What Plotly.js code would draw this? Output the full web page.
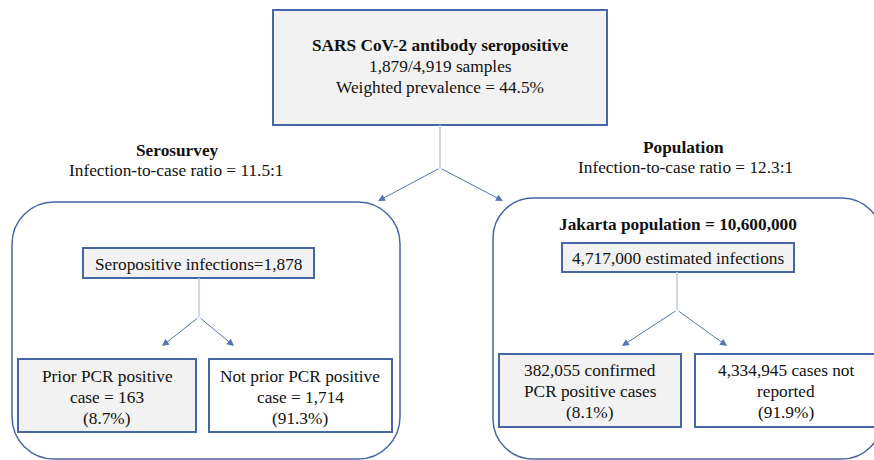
<!DOCTYPE html>
<html>
<head>
<meta charset="utf-8">
<script src="https://cdn.plot.ly/plotly-3.0.1.min.js"></script>
<style>html,body{margin:0;padding:0;background:#fff;font-family:"Liberation Serif",serif}#chart{width:874px;height:460px}</style>
</head>
<body>
<div id="chart"></div>
<script>
// ---- Content ----
const titleLines = ["SARS CoV-2 antibody seropositive", "1,879/4,919 samples", "Weighted prevalence = 44.5%"];
const groupNames = ["Serosurvey", "Population"];
const groupRatios = ["11.5:1", "12.3:1"];
const populationLabel = "Jakarta population = 10,600,000";
const parentLabels = ["Seropositive infections=1,878", "4,717,000 estimated infections"];
const childLines = [
  ["Prior PCR positive", "case = 163"],
  ["Not prior PCR positive", "case = 1,714"],
  ["382,055 confirmed", "PCR positive cases"],
  ["4,334,945 cases not", "reported"]
];
const childShares = ["8.7%", "91.3%", "8.1%", "91.9%"];

// ---- Layout geometry (pixel space, y downwards) ----
const BORDER = "#4766a5", ARROW = "#5673b2", STEM = "#c0cbe3", GREY = "#f2f2f2";
const FONT = "Liberation Serif";
const FS = 17.3;
const LH = 21;

const shapes = [];
const annotations = [];

function rect(x0, y0, x1, y1, fill) {
  shapes.push({type: "rect", xref: "x", yref: "y", x0: x0, y0: y0, x1: x1, y1: y1,
    line: {color: BORDER, width: 2}, fillcolor: fill, layer: "below"});
}
function rrect(x0, y0, x1, y1, r) {
  const k = r * 0.45;
  const p = "M " + (x0 + r) + "," + y0 + " L " + (x1 - r) + "," + y0 +
    " C " + (x1 - k) + "," + y0 + " " + x1 + "," + (y0 + k) + " " + x1 + "," + (y0 + r) +
    " L " + x1 + "," + (y1 - r) +
    " C " + x1 + "," + (y1 - k) + " " + (x1 - k) + "," + y1 + " " + (x1 - r) + "," + y1 +
    " L " + (x0 + r) + "," + y1 +
    " C " + (x0 + k) + "," + y1 + " " + x0 + "," + (y1 - k) + " " + x0 + "," + (y1 - r) +
    " L " + x0 + "," + (y0 + r) +
    " C " + x0 + "," + (y0 + k) + " " + (x0 + k) + "," + y0 + " " + (x0 + r) + "," + y0 + " Z";
  shapes.push({type: "path", xref: "x", yref: "y", path: p, line: {color: BORDER, width: 1.5}, fillcolor: "rgba(0,0,0,0)", layer: "below"});
}
function stem(x, y0, y1) {
  shapes.push({type: "line", xref: "x", yref: "y", x0: x, y0: y0, x1: x, y1: y1, line: {color: STEM, width: 1.5}});
}
function arrow(x0, y0, x1, y1) {
  annotations.push({x: x1, y: y1, ax: x0, ay: y0, xref: "x", yref: "y", axref: "x", ayref: "y",
    text: "", showarrow: true, arrowhead: 2, arrowsize: 1.4, arrowwidth: 1, arrowcolor: ARROW, standoff: 0, startstandoff: 0});
}
function text(x, y, t) {
  annotations.push({x: x, y: y, xref: "x", yref: "y", text: t, showarrow: false,
    font: {family: FONT, size: FS, color: "#111111"}, xanchor: "center", yanchor: "middle", align: "center"});
}
function lines(x, yFirst, arr) {
  arr.forEach(function (t, i) { text(x, yFirst + i * LH, t); });
}

// Top box
rect(273, 10, 607, 125, GREY);
lines(440, 45, ["<b>" + titleLines[0] + "</b>", titleLines[1], titleLines[2]]);
stem(440, 125, 168);
arrow(440, 168, 378, 201);
arrow(440, 168, 503, 201);

// Group headers
text(177, 150, "<b>" + groupNames[0] + "</b>");
text(176, 170, "Infection-to-case ratio = " + groupRatios[0]);
text(683, 147, "<b>" + groupNames[1] + "</b>");
text(685, 167, "Infection-to-case ratio = " + groupRatios[1]);

// Group containers
rrect(12, 202, 400, 459, 42);
rrect(493, 198, 882, 459, 40);

// Left group
rect(83, 248, 314, 278, GREY);
text(199, 264, parentLabels[0]);
stem(199, 278, 317);
arrow(199, 317, 162, 346);
arrow(199, 317, 234, 346);
rect(18, 359, 196, 432, GREY);
lines(107, 376, [childLines[0][0], childLines[0][1], "(" + childShares[0] + ")"]);
rect(209, 359, 392, 432, "#ffffff");
lines(300, 376, [childLines[1][0], childLines[1][1], "(" + childShares[1] + ")"]);

// Right group
text(678, 224, "<b>" + populationLabel + "</b>");
rect(562, 243, 794, 272, GREY);
text(678, 258, parentLabels[1]);
stem(677, 272, 310);
arrow(677, 310, 622, 346);
arrow(677, 310, 727, 346);
rect(499, 354, 681, 427, GREY);
lines(590, 370.5, [childLines[2][0], childLines[2][1], "(" + childShares[2] + ")"]);
rect(695, 354, 884, 427, "#ffffff");
lines(786, 370.5, [childLines[3][0], childLines[3][1], "(" + childShares[3] + ")"]);

const layout = {
  width: 874, height: 460,
  margin: {l: 0, r: 0, t: 0, b: 0},
  paper_bgcolor: "#ffffff", plot_bgcolor: "#ffffff",
  font: {family: FONT, size: FS},
  xaxis: {range: [0, 874], visible: false, fixedrange: true},
  yaxis: {range: [460, 0], visible: false, fixedrange: true},
  shapes: shapes, annotations: annotations, showlegend: false
};
function draw() { Plotly.newPlot("chart", [], layout, {displayModeBar: false}); }
if (document.fonts && document.fonts.load) {
  Promise.all([
    document.fonts.load(FS + 'px "Liberation Serif"'),
    document.fonts.load('bold ' + FS + 'px "Liberation Serif"')
  ]).then(draw, draw);
} else { draw(); }
</script>
</body>
</html>
